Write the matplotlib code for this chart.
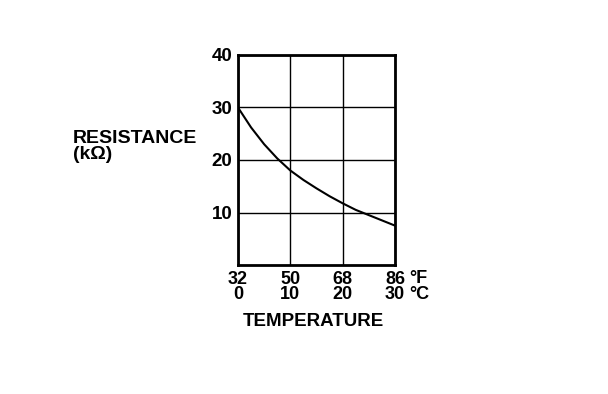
import matplotlib
matplotlib.use('Agg')
import matplotlib.pyplot as plt

# resistance curve
temp_c = [0, 2.5, 5, 7.5, 10, 12.5, 15, 17.5, 20, 22.5, 25, 27.5, 30]
res_kohm = [30.0, 26.2, 23.0, 20.3, 18.0, 16.2, 14.6, 13.1, 11.75, 10.5, 9.5, 8.5, 7.5]

xticks_c = [0, 10, 20, 30]
xlabels_f = ['32', '50', '68', '86']
xlabels_c = ['0', '10', '20', '30']
yticks = [10, 20, 30, 40]

plt.rcParams['font.family'] = ['Liberation Sans', 'DejaVu Sans']
plt.rcParams['font.weight'] = 'bold'

W, H = 608, 394
fig = plt.figure(figsize=(W / 100, H / 100), dpi=100)
ax = fig.add_axes([238 / W, 1 - 265 / H, 157 / W, 210 / H])

ax.plot(temp_c, res_kohm, color='black', lw=1.5)

ax.set_xlim(0, 30)
ax.set_ylim(0, 40)
ax.set_xticks(xticks_c)
ax.set_xticklabels([f + '\n' + c for f, c in zip(xlabels_f, xlabels_c)],
                   fontsize=13, fontweight='bold', linespacing=0.9)
ax.set_yticks(yticks)
ax.set_yticklabels([str(v) for v in yticks], fontsize=13.5, fontweight='bold')
ax.tick_params(length=0, pad=4)
ax.tick_params(axis='x', pad=4)
ax.grid(True, color='black', lw=1)
for s in ax.spines.values():
    s.set_linewidth(2)

ax.annotate('°F\n°C', xy=(30, 0), xycoords='data', xytext=(10, -3.7),
            textcoords='offset points', ha='left', va='top',
            fontsize=13, fontweight='bold', linespacing=0.9)

fig.text(73 / W, 1 - 130 / H, 'RESISTANCE\n(kΩ)', ha='left', va='top',
         fontsize=14, fontweight='bold', linespacing=0.9)
fig.text(313 / W, 1 - 321 / H, 'TEMPERATURE', ha='center', va='center',
         fontsize=13.5, fontweight='bold')

fig.savefig('out.png', dpi=100)
